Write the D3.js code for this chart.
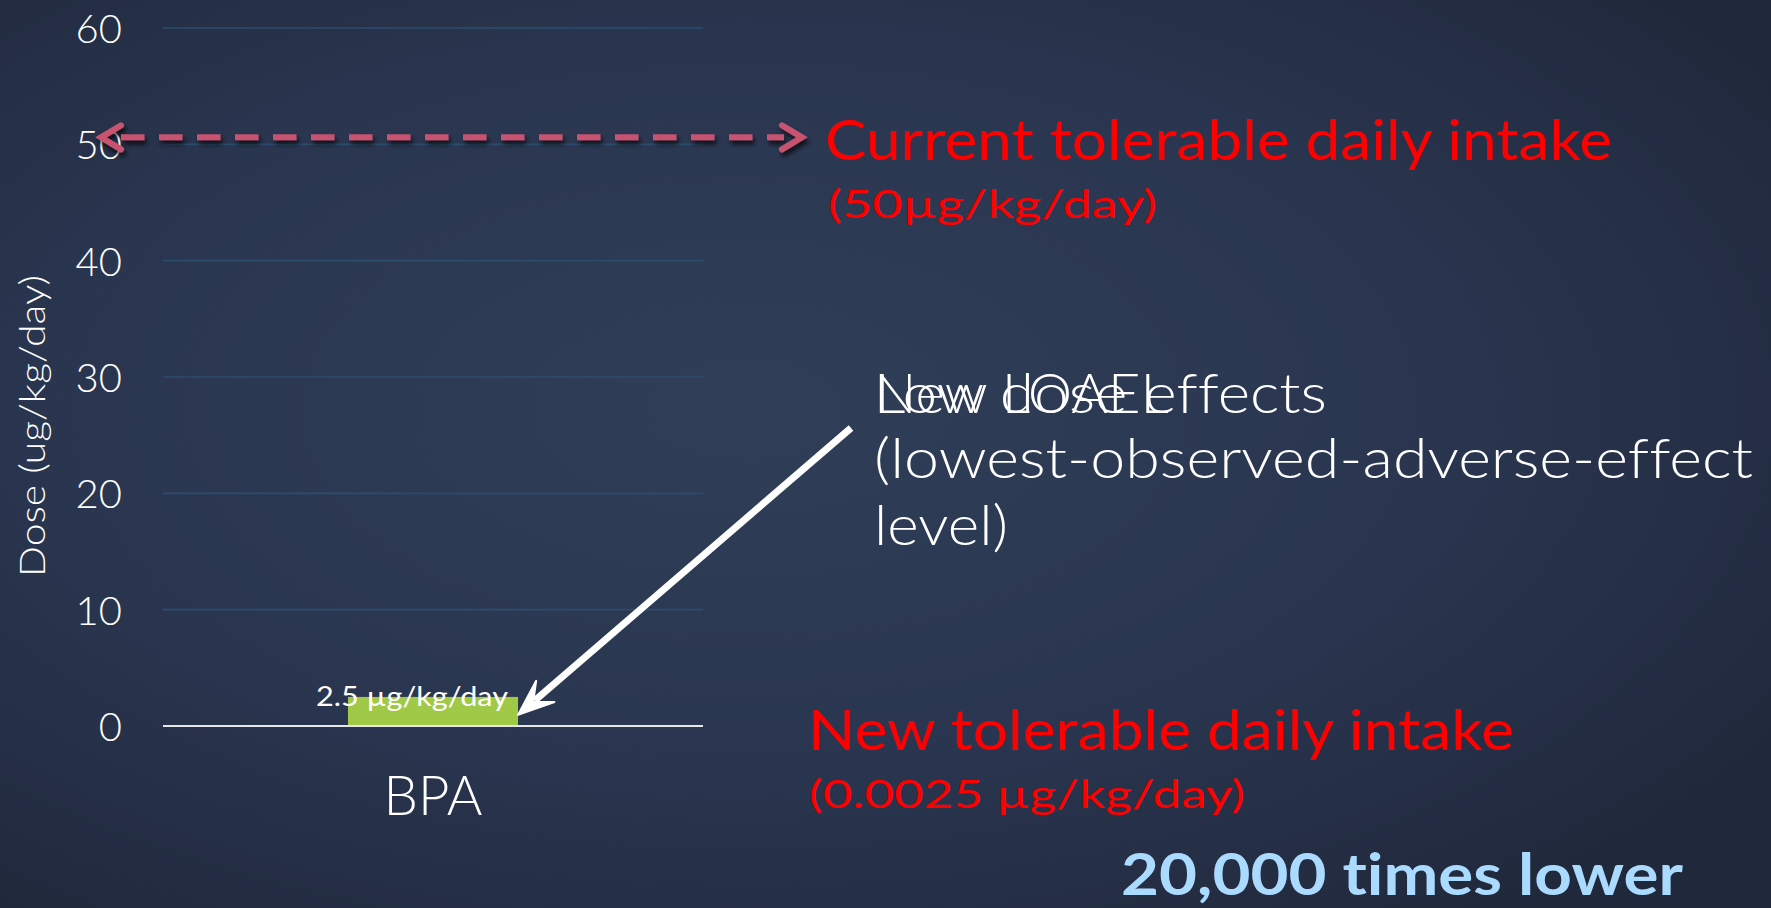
<!DOCTYPE html>
<html><head><meta charset="utf-8">
<script src="https://cdn.jsdelivr.net/npm/d3@7"></script>
<style>html,body{margin:0;padding:0;background:#262f45;overflow:hidden}
text{font-variant-ligatures:none;font-feature-settings:"liga" 0,"clig" 0}</style>
</head><body>
<script>
// ---- data ----
const categories = ["BPA"];
const doseValues = [2.5];
const barLabels = ["2.5 µg/kg/day"];
const yTicks = [0, 10, 20, 30, 40, 50, 60];
const yTitle = "Dose (ug/kg/day)";
const currentTDI = 50;
const loael = 2.5;
const currentLines = ["Current tolerable daily intake", "(50µg/kg/day)"];
const lowDoseLabel = "Low dose effects";
const loaelLines = ["New LOAEL", "(lowest-observed-adverse-effect", "level)"];
const newLines = ["New tolerable daily intake", "(0.0025 µg/kg/day)"];
const ratioLabel = "20,000 times lower";

const W = 1771, H = 908;
const FONT = "Lato, 'Open Sans', 'DejaVu Sans', sans-serif";
const svg = d3.select("body").append("svg").attr("width", W).attr("height", H);
const defs = svg.append("defs");
const rg = defs.append("radialGradient").attr("id","bg").attr("cx","42%").attr("cy","45%").attr("r","70%");
rg.append("stop").attr("offset","0%").attr("stop-color","#303e58");
rg.append("stop").attr("offset","55%").attr("stop-color","#2a3650");
rg.append("stop").attr("offset","100%").attr("stop-color","#20283b");
svg.append("rect").attr("width",W).attr("height",H).attr("fill","url(#bg)");
const sh = defs.append("filter").attr("id","shadow").attr("x","-10%").attr("y","-100%").attr("width","120%").attr("height","300%");
sh.append("feDropShadow").attr("dx",2).attr("dy",4).attr("stdDeviation",2.5).attr("flood-color","#000").attr("flood-opacity",0.75);

const y = d3.scaleLinear().domain([0, 60]).range([726, 28]);
const x = d3.scaleBand().domain(categories).range([163, 703]).paddingInner(0.521).paddingOuter(0.521);

// grid
const g = svg.append("g");
g.selectAll("line.grid").data(yTicks.filter(t => t > 0)).join("line")
  .attr("x1", x.range()[0]).attr("x2", x.range()[1])
  .attr("y1", d => y(d)).attr("y2", d => y(d))
  .attr("stroke", "#2c4c6c").attr("stroke-width", 1.6);

// y axis tick labels
const yAxis = d3.axisLeft(y).tickValues(yTicks).tickSize(0).tickPadding(0);
const ya = g.append("g").attr("transform", "translate(122,0)").call(yAxis);
ya.select(".domain").remove();
ya.selectAll("text").attr("fill", "#ffffff").attr("font-size", 40).attr("font-family", FONT).attr("font-weight", 300).attr("dy", "0.36em");

// bars
g.selectAll("rect.bar").data(categories).join("rect")
  .attr("x", d => x(d)).attr("width", x.bandwidth())
  .attr("y", (d, i) => y(doseValues[i])).attr("height", (d, i) => y(0) - y(doseValues[i]))
  .attr("fill", "#a0c948");

// zero line
g.append("line").attr("x1", x.range()[0]).attr("x2", x.range()[1]).attr("y1", y(0)).attr("y2", y(0))
  .attr("stroke", "#e6e6e6").attr("stroke-width", 2);

// bar labels
g.selectAll("text.bl").data(categories).join("text")
  .attr("x", (d) => x(d) + x.bandwidth() / 2 - 21).attr("y", (d, i) => y(doseValues[i]) + 9)
  .attr("text-anchor", "middle").attr("fill", "#ffffff").attr("font-size", 26).attr("font-family", FONT).attr("font-weight", 400)
  .attr("textLength", 192).attr("lengthAdjust", "spacingAndGlyphs")
  .text((d, i) => barLabels[i]);

// x axis category labels
const xAxis = d3.axisBottom(x).tickSize(0).tickPadding(0);
const xa = g.append("g").attr("transform", `translate(0,${y(0)})`).call(xAxis);
xa.select(".domain").remove();
xa.selectAll("text").attr("fill", "#ffffff").attr("font-size", 56).attr("font-family", FONT).attr("font-weight", 300)
  .attr("dy", null).attr("y", 89).attr("textLength", 99).attr("lengthAdjust", "spacingAndGlyphs");

// y title
svg.append("text").attr("transform", "translate(45,426) rotate(-90)").attr("text-anchor", "middle")
  .attr("fill", "#ffffff").attr("font-size", 36).attr("font-family", FONT).attr("font-weight", 300)
  .attr("textLength", 302).attr("lengthAdjust", "spacingAndGlyphs").text(yTitle);

// dashed double arrow at current TDI
const ay = y(currentTDI) - 7, ax0 = x.range()[0] - 64, ax1 = x.range()[1] + 101;
const da = svg.append("g").attr("filter", "url(#shadow)");
da.append("line").attr("x1", ax0 + 22).attr("x2", ax1 - 20).attr("y1", ay).attr("y2", ay)
  .attr("stroke", "#c8526f").attr("stroke-width", 6).attr("stroke-dasharray", "23.5 14.5");
da.append("path").attr("d", `M${ax0 + 22},${ay - 12} L${ax0 + 2},${ay} L${ax0 + 22},${ay + 12}`)
  .attr("fill", "none").attr("stroke", "#c8526f").attr("stroke-width", 6).attr("stroke-linecap", "round");
da.append("path").attr("d", `M${ax1 - 22},${ay - 12} L${ax1 - 2},${ay} L${ax1 - 22},${ay + 12}`)
  .attr("fill", "none").attr("stroke", "#c8526f").attr("stroke-width", 6).attr("stroke-linecap", "round");

// white arrow to LOAEL bar
const tipX = x(categories[0]) + x.bandwidth(), tipY = y(loael) + 18;
const sx = 851, sy = 428;
const ang = Math.atan2(tipY - sy, tipX - sx);
const hl = 30;
const bx = tipX - hl * Math.cos(ang), by = tipY - hl * Math.sin(ang);
const px = -Math.sin(ang), py = Math.cos(ang);
svg.append("line").attr("x1", sx).attr("y1", sy).attr("x2", bx + 8 * Math.cos(ang)).attr("y2", by + 8 * Math.sin(ang))
  .attr("stroke", "#ffffff").attr("stroke-width", 7);
svg.append("path")
  .attr("d", `M${tipX},${tipY} L${bx - 1.5 * 7 * 0 + 14 * px - 6 * Math.cos(ang)},${by + 14 * py - 6 * Math.sin(ang)} L${bx + 10 * Math.cos(ang)},${by + 10 * Math.sin(ang)} L${bx - 14 * px - 6 * Math.cos(ang)},${by - 14 * py - 6 * Math.sin(ang)} Z`)
  .attr("fill", "#ffffff").attr("stroke", "#ffffff").attr("stroke-width", 2).attr("stroke-linejoin", "round");

// annotation texts
function txt(s, xx, yy, size, color, len, weight) {
  svg.append("text").attr("x", xx).attr("y", yy).attr("fill", color).attr("font-size", size)
    .attr("font-family", FONT).attr("font-weight", weight || 400)
    .attr("textLength", len).attr("lengthAdjust", "spacingAndGlyphs").text(s);
}
txt(currentLines[0], 825, 160, 56, "#ff0000", 787);
txt(currentLines[1], 828, 218, 39, "#ff0000", 329);
txt(lowDoseLabel, 874, 413, 55, "#ffffff", 453, 300);
txt(loaelLines[0], 874, 413, 55, "#ffffff", 295, 300);
txt(loaelLines[1], 874, 478, 55, "#ffffff", 879, 300);
txt(loaelLines[2], 874, 545, 55, "#ffffff", 134, 300);
txt(newLines[0], 808, 750, 56, "#ff0000", 706);
txt(newLines[1], 809, 808, 39, "#ff0000", 436);
txt(ratioLabel, 1121, 895, 58, "#abdaff", 562, 700);
</script>
</body></html>
